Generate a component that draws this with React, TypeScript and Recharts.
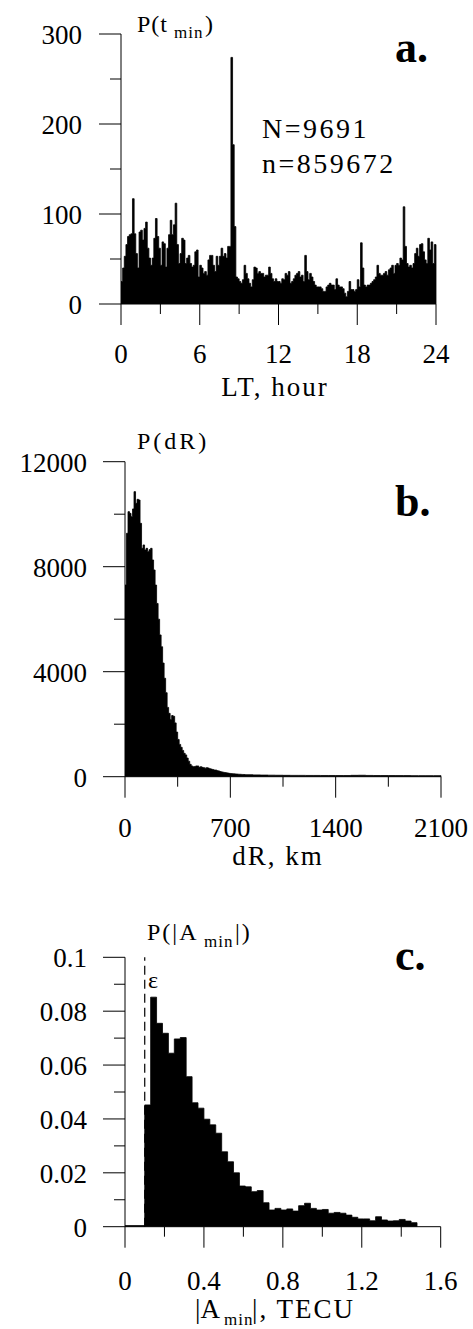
import React from 'react';
import { AreaChart, Area, XAxis, YAxis, ReferenceLine } from 'recharts';

const FONT = 'Liberation Serif, Times New Roman, serif';

// a. P(t_min): 7.5-minute bins over local time 0..24 h
const tminBinHours = 0.125;
const tminCounts = [
  25, 40, 53, 66, 75, 77, 78, 117, 78, 56,
  40, 80, 82, 71, 84, 91, 62, 51, 43, 51,
  73, 95, 75, 62, 43, 69, 67, 41, 62, 77,
  93, 77, 88, 112, 66, 45, 56, 73, 71, 45,
  51, 54, 45, 41, 43, 58, 60, 30, 43, 40,
  34, 36, 32, 49, 54, 54, 43, 36, 53, 43,
  53, 62, 53, 56, 51, 64, 64, 274, 177, 86,
  30, 28, 25, 23, 27, 43, 34, 28, 23, 19,
  27, 41, 40, 34, 36, 34, 34, 30, 32, 32,
  41, 34, 28, 25, 28, 25,
  25, 23, 28, 27, 34, 32, 36, 23, 25, 28,
  32, 34, 36, 30, 32, 25, 54, 36, 27, 34,
  30, 25, 21, 19, 19, 19, 17, 14, 14, 19,
  21, 23, 21, 21, 16, 28, 21, 19, 19, 17,
  12, 8, 14, 25, 16, 16, 14, 16, 27, 19,
  68, 40, 21, 19, 21, 21, 23, 25, 27, 30,
  43, 34, 32, 32, 34, 36, 32, 38, 40, 43,
  34, 43, 45, 43, 51, 49, 108, 64, 45, 41,
  43, 40, 45, 56, 62, 53, 66, 67, 58, 49,
  45, 73, 60, 69, 45, 66,
];
const tminXTicks = [0, 3, 6, 9, 12, 15, 18, 21, 24];
const tminXLabels = [0, 6, 12, 18, 24];
const tminYTicks = [0, 50, 100, 150, 200, 250, 300];
const tminYLabels = [0, 100, 200, 300];

// b. P(dR): 10 km bins up to 800 km, then 50 km bins
const dRNearBinKm = 10;
const dRNearCounts = [
  7300, 9273, 10097, 10033, 9906, 10200, 10860, 10414, 10567, 10541,
  9652, 8700, 8828, 8637, 8700, 8574, 8650, 8700, 8256, 7875,
  7300, 6600, 6000, 5400, 4950, 4330, 3750, 3200, 2640, 2414,
  2180, 2330, 2300, 2050, 1700, 1420, 1230, 1120, 1000, 890,
  830, 710, 590, 470, 410, 380, 390, 410, 410, 356,
  381, 356, 343, 325, 345, 330, 305, 290, 275, 254,
  254, 230, 218, 195, 182, 170, 158, 148, 138, 127,
  120, 115, 110, 105, 100, 95, 92, 88, 85, 82,
];
const dRFarStartKm = 800;
const dRFarBinKm = 50;
const dRFarCounts = [
  75, 68, 62, 58, 55, 52, 50, 50, 48, 48, 46, 46, 45,
  45, 52, 55, 48, 45, 44, 43, 42, 42, 40, 40, 40, 40,
];
const dRXTicks = [0, 350, 700, 1050, 1400, 1750, 2100];
const dRXLabels = [0, 700, 1400, 2100];
const dRYTicks = [0, 2000, 4000, 6000, 8000, 10000, 12000];
const dRYLabels = [0, 4000, 8000, 12000];

// c. P(|A_min|): 0.03 TECU bins above the threshold epsilon
const epsilon = 0.1;
const aminBelowEps = 0.0004;
const aminBinTecu = 0.03;
const aminCounts = [
  0.0452, 0.0852, 0.0755, 0.0718, 0.0644, 0.0697, 0.0702, 0.0557, 0.046, 0.044,
  0.0399, 0.0378, 0.0347, 0.0278, 0.0241, 0.02, 0.0151, 0.0148, 0.013, 0.0134,
  0.0089, 0.0062, 0.0068, 0.0062, 0.0066, 0.0058, 0.0078, 0.0087, 0.0068, 0.0062,
  0.0064, 0.005, 0.0053, 0.005, 0.0043, 0.0035, 0.0029, 0.0029, 0.0022, 0.0037,
  0.0025, 0.0021, 0.0022, 0.0027, 0.0021, 0.0015,
];
const aminXTicks = [0, 0.2, 0.4, 0.6, 0.8, 1, 1.2, 1.4, 1.6];
const aminXLabels = [0, 0.4, 0.8, 1.2, 1.6];
const aminYTicks = [0, 0.01, 0.02, 0.03, 0.04, 0.05, 0.06, 0.07, 0.08, 0.09, 0.1];
const aminYLabels = [0, 0.02, 0.04, 0.06, 0.08, 0.1];

type Pt = { x: number; y: number };
const toSteps = (start: number, bin: number, counts: number[]): Pt[] =>
  counts.map((y, i) => ({ x: +(start + i * bin).toFixed(4), y }));

const tminData: Pt[] = [...toSteps(0, tminBinHours, tminCounts), { x: 24, y: 0 }];
const dRData: Pt[] = [
  ...toSteps(0, dRNearBinKm, dRNearCounts),
  ...toSteps(dRFarStartKm, dRFarBinKm, dRFarCounts),
  { x: dRFarStartKm + dRFarCounts.length * dRFarBinKm, y: 0 },
];
const aminData: Pt[] = [
  { x: 0, y: aminBelowEps },
  ...toSteps(epsilon, aminBinTecu, aminCounts),
  { x: +(epsilon + aminCounts.length * aminBinTecu).toFixed(4), y: 0 },
];

const isIn = (list: number[], v: number) => list.some((l) => Math.abs(l - v) < 1e-9);

const makeXTick = (labels: number[], dy: number) => (props: any) => {
  const { x, y, payload } = props;
  const major = isIn(labels, payload.value);
  return (
    <g>
      <line x1={x} x2={x} y1={y} y2={y + (major ? 21 : 10)} stroke="#000" />
      {major && (
        <text x={x} y={y + dy} textAnchor="middle" style={{ fontFamily: FONT, fontSize: 27 }} fill="#000">
          {String(payload.value)}
        </text>
      )}
    </g>
  );
};

const makeYTick = (labels: number[], gap: number) => (props: any) => {
  const { x, y, payload } = props;
  const major = isIn(labels, payload.value);
  return (
    <g>
      <line x1={x - (major ? 22 : 11)} x2={x} y1={y} y2={y} stroke="#000" />
      {major && (
        <text x={x - gap} y={y + 10} textAnchor="end" style={{ fontFamily: FONT, fontSize: 27 }} fill="#000">
          {String(payload.value)}
        </text>
      )}
    </g>
  );
};

interface PanelProps {
  top: number;
  height: number;
  marginTop: number;
  marginRight: number;
  yWidth: number;
  xHeight: number;
  data: Pt[];
  xDomain: [number, number];
  yDomain: [number, number];
  xTicks: number[];
  xLabels: number[];
  yTicks: number[];
  yLabels: number[];
  labelDy: number;
  labelGap: number;
  children?: React.ReactNode;
}

const Panel: React.FC<PanelProps> = (p) => (
  <div style={{ position: 'absolute', left: 0, top: p.top }}>
    <AreaChart
      width={473}
      height={p.height}
      data={p.data}
      margin={{ top: p.marginTop, right: p.marginRight, bottom: 0, left: 0 }}
    >
      <XAxis
        dataKey="x"
        type="number"
        domain={p.xDomain}
        ticks={p.xTicks}
        interval={0}
        height={p.xHeight}
        tickSize={0}
        tickMargin={0}
        tickLine={false}
        axisLine={{ stroke: '#000' }}
        tick={makeXTick(p.xLabels, p.labelDy)}
      />
      <YAxis
        type="number"
        domain={p.yDomain}
        ticks={p.yTicks}
        interval={0}
        width={p.yWidth}
        tickSize={0}
        tickMargin={0}
        tickLine={false}
        axisLine={{ stroke: '#000' }}
        tick={makeYTick(p.yLabels, p.labelGap)}
      />
      <Area
        type="stepAfter"
        dataKey="y"
        stroke="#000"
        strokeWidth={0.8}
        fill="#000"
        fillOpacity={1}
        dot={false}
        activeDot={false}
        isAnimationActive={false}
      />
      {p.children}
    </AreaChart>
  </div>
);

const T: React.FC<{ x: number; y: number; size: number; ls?: number; bold?: boolean; anchor?: string; children: React.ReactNode }> = ({
  x, y, size, ls = 0, bold = false, anchor = 'start', children,
}) => (
  <text
    x={x}
    y={y}
    textAnchor={anchor as any}
    fill="#000"
    style={{ fontFamily: FONT, fontSize: size, letterSpacing: ls, fontWeight: bold ? 'bold' : 'normal' }}
  >
    {children}
  </text>
);

export default function App() {
  return (
    <div style={{ position: 'absolute', left: 0, top: 0, width: 473, height: 1329, background: '#fff' }}>
      <Panel
        top={0}
        height={420}
        marginTop={34}
        marginRight={37}
        yWidth={121}
        xHeight={116}
        data={tminData}
        xDomain={[0, 24]}
        yDomain={[0, 300]}
        xTicks={tminXTicks}
        xLabels={tminXLabels}
        yTicks={tminYTicks}
        yLabels={tminYLabels}
        labelDy={59}
        labelGap={39}
      />
      <Panel
        top={420}
        height={460}
        marginTop={41.7}
        marginRight={32}
        yWidth={125}
        xHeight={103.3}
        data={dRData}
        xDomain={[0, 2100]}
        yDomain={[0, 12000]}
        xTicks={dRXTicks}
        xLabels={dRXLabels}
        yTicks={dRYTicks}
        yLabels={dRYLabels}
        labelDy={60}
        labelGap={38}
      />
      <Panel
        top={880}
        height={449}
        marginTop={77.3}
        marginRight={32.3}
        yWidth={125}
        xHeight={102.3}
        data={aminData}
        xDomain={[0, 1.6]}
        yDomain={[0, 0.1]}
        xTicks={aminXTicks}
        xLabels={aminXLabels}
        yTicks={aminYTicks}
        yLabels={aminYLabels}
        labelDy={63}
        labelGap={38}
      >
        <ReferenceLine x={epsilon} stroke="#000" strokeWidth={1.2} strokeDasharray="9 5" />
      </Panel>

      <svg
        width={473}
        height={1329}
        style={{ position: 'absolute', left: 0, top: 0, pointerEvents: 'none' }}
      >
        {/* panel a */}
        <T x={137} y={32} size={24} ls={1}>P(t</T>
        <T x={174} y={38} size={17} ls={1}>min</T>
        <T x={205} y={32} size={24}>)</T>
        <T x={395} y={62} size={44} bold>a.</T>
        <T x={262} y={138} size={28} ls={2.5}>N=9691</T>
        <T x={262} y={173} size={28} ls={2.5}>n=859672</T>
        <T x={275} y={396} size={27} ls={2} anchor="middle">LT, hour</T>

        {/* panel b */}
        <T x={137} y={449} size={24} ls={3}>P(dR)</T>
        <T x={395} y={516} size={44} bold>b.</T>
        <T x={278} y={865} size={27} ls={2} anchor="middle">dR, km</T>

        {/* panel c */}
        <T x={147} y={940} size={24} ls={2}>P(|A</T>
        <T x={204} y={947} size={17} ls={1}>min</T>
        <T x={235} y={940} size={24} ls={2}>|)</T>
        <T x={395} y={970} size={44} bold>c.</T>
        <T x={148} y={988} size={24}>ε</T>
        <T x={195} y={1318} size={27}>|A</T>
        <T x={224} y={1325} size={17} ls={1}>min</T>
        <T x={252} y={1318} size={27} ls={2}>|, TECU</T>
      </svg>
    </div>
  );
}
